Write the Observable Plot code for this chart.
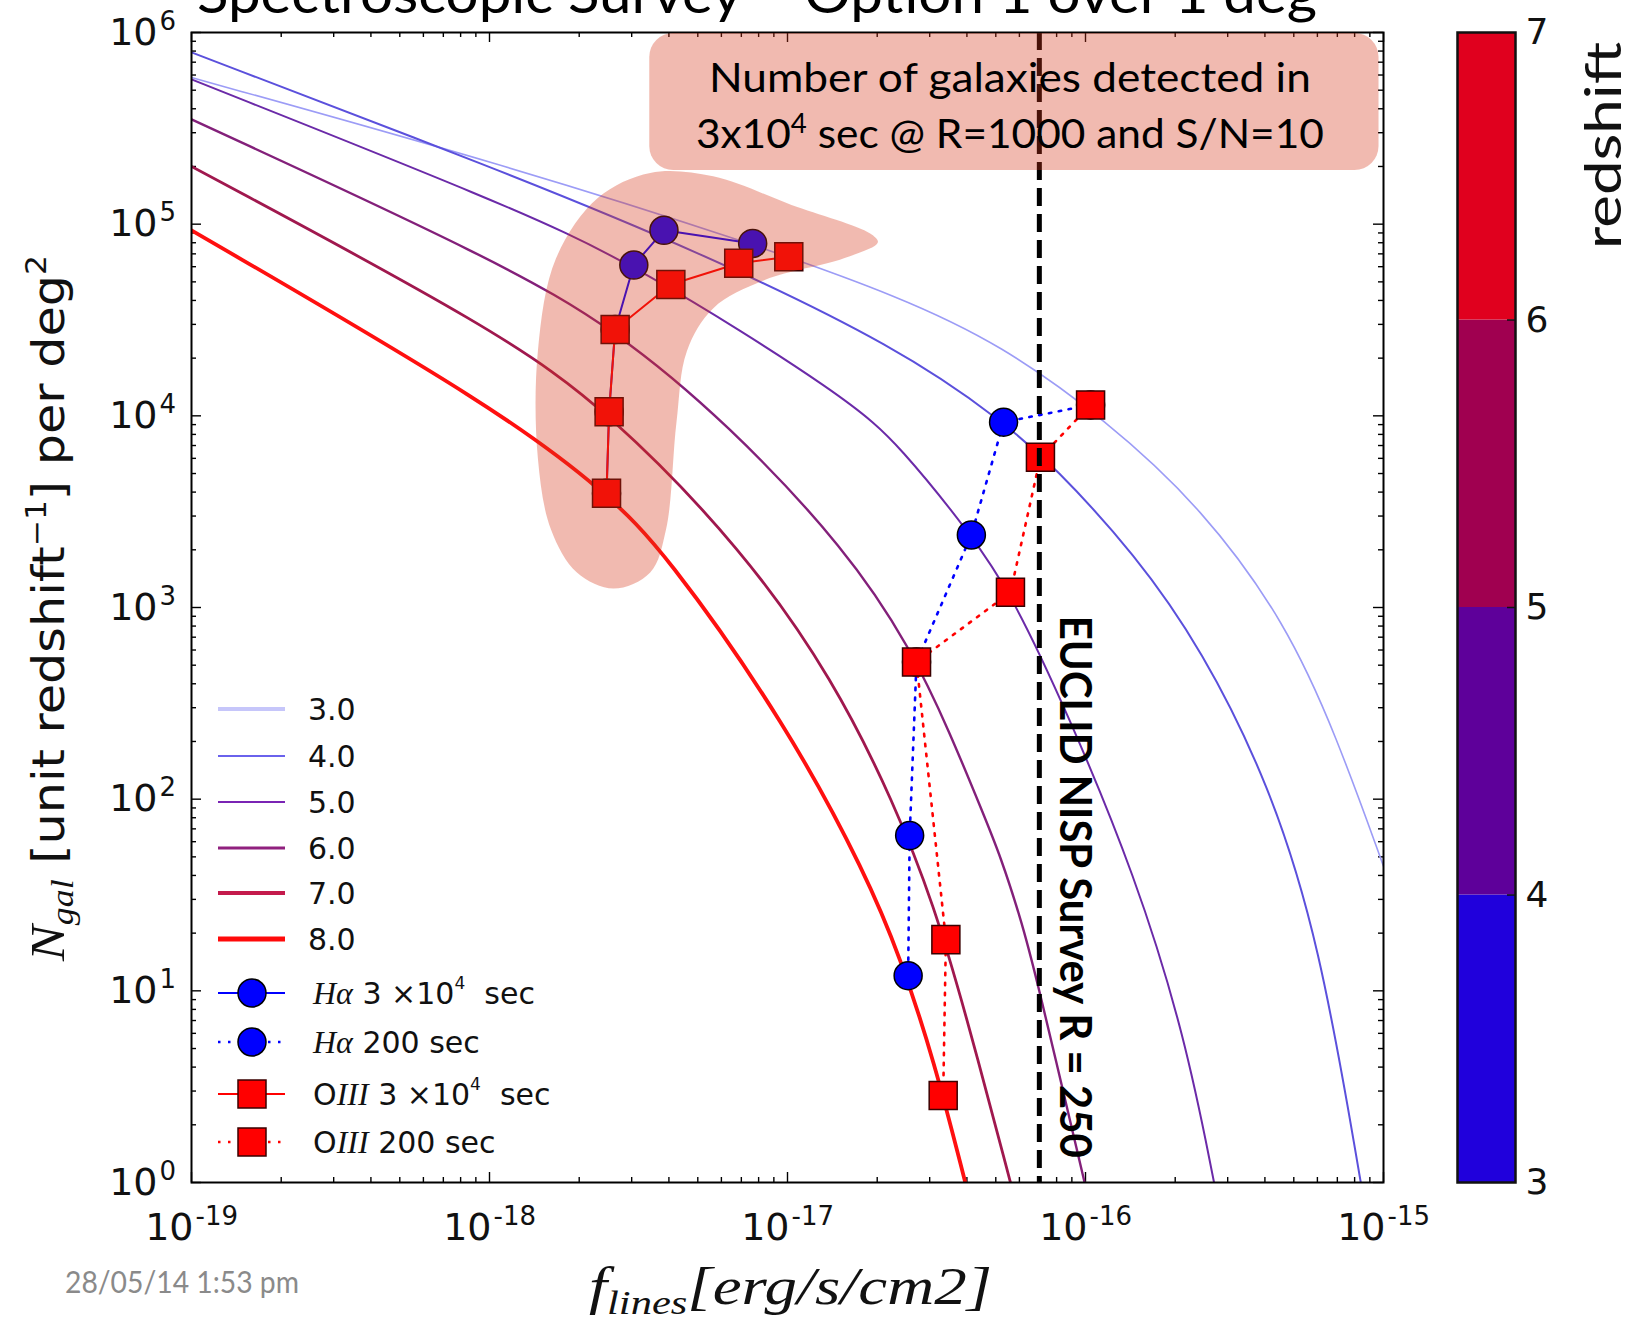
<!DOCTYPE html>
<html><head><meta charset="utf-8">
<script src="https://cdn.jsdelivr.net/npm/d3@7"></script>
<script src="https://cdn.jsdelivr.net/npm/@observablehq/plot@0.6"></script>
<style>
html,body{margin:0;padding:0;background:#fff;}
#wrap{position:relative;width:1629px;height:1322px;overflow:hidden;background:#fff;}
#wrap > svg{position:absolute;top:0;left:0;}
</style></head><body><div id="wrap"></div>
<script>
// ---------------- tick labels ----------------
const xMajorTicks = [1e-19, 1e-18, 1e-17, 1e-16, 1e-15];
const xTickExponents = ["-19", "-18", "-17", "-16", "-15"];
const yMajorTicks = [1, 1e1, 1e2, 1e3, 1e4, 1e5, 1e6];
const yTickExponents = ["0", "1", "2", "3", "4", "5", "6"];

// ---------------- model curves (flux, N_gal) ----------------
const curveLabels = ["3.0", "4.0", "5.0", "6.0", "7.0", "8.0"];
const fluxZ3 = [1e-19, 1.09e-18, 7.64e-18, 2.39e-17, 5.19e-17, 1.17e-16, 2.46e-16, 4.71e-16, 6.95e-16, 1e-15];
const nZ3    = [5.82e5, 2.07e5, 7.93e4, 4.17e4, 2.36e4, 9.53e3, 3.31e3, 832, 214, 44.7];
const fluxZ4 = [1e-19, 1.09e-18, 5.01e-18, 2.39e-17, 5.31e-17, 7.85e-17, 1.47e-16, 2.46e-16, 4.13e-16, 6.10e-16, 8.39e-16];
const nZ4    = [7.87e5, 1.91e5, 7.24e4, 2.25e4, 9.27e3, 5.46e3, 1.89e3, 604, 121, 18.0, 1];
const fluxZ5 = [1e-19, 1.09e-18, 3.05e-18, 1.63e-17, 2.39e-17, 4.14e-17, 5.60e-17, 8.71e-17, 1.47e-16, 2.16e-16, 2.70e-16];
const nZ5    = [5.69e5, 1.30e5, 6.27e4, 1.21e4, 6.92e3, 2.39e3, 1.20e3, 282, 39.8, 5.75, 1];
const fluxZ6 = [1e-19, 1.09e-18, 2.64e-18, 6.31e-18, 1.585e-17, 2.59e-17, 3.52e-17, 4.56e-17, 5.19e-17, 6.05e-17, 6.73e-17, 9.93e-17];
const nZ6    = [3.52e5, 6.34e4, 2.82e4, 9.12e3, 1.99e3, 614, 220, 82.4, 50.1, 24.0, 13.2, 1];
const fluxZ7 = [1e-19, 1.09e-18, 2.52e-18, 7.13e-18, 1.43e-17, 2.28e-17, 3.10e-17, 4.01e-17, 5.60e-17];
const nZ7    = [2.00e5, 2.74e4, 1.05e4, 1.99e3, 417, 95.5, 28.2, 7.14, 1];
const fluxZ8 = [1e-19, 1.09e-18, 2.47e-18, 3.85e-18, 9.98e-18, 1.85e-17, 2.39e-17, 3.10e-17, 3.95e-17];
const nZ8    = [9.29e4, 1.07e4, 3.94e3, 1.99e3, 242, 39.5, 14.9, 4.37, 1];

// ---------------- detections ----------------
const haLongFlux  = [2.47e-18, 2.52e-18, 2.64e-18, 3.05e-18, 3.85e-18, 7.64e-18];
const haLongN     = [3.94e3, 1.05e4, 2.82e4, 6.12e4, 9.29e4, 7.93e4];
const haShortFlux = [1.04e-16, 5.31e-17, 4.14e-17, 2.71e-17, 2.57e-17, 2.54e-17];
const haShortN    = [1.14e4, 9.27e3, 2.39e3, 519, 64.6, 12.0];
const o3LongFlux  = [2.47e-18, 2.52e-18, 2.64e-18, 4.06e-18, 6.86e-18, 1.01e-17];
const o3LongN     = [3.94e3, 1.05e4, 2.82e4, 4.84e4, 6.25e4, 6.76e4];
const o3ShortFlux = [1.04e-16, 7.06e-17, 5.60e-17, 2.71e-17, 3.40e-17, 3.33e-17];
const o3ShortN    = [1.14e4, 6.08e3, 1.20e3, 519, 18.5, 2.84];

// EUCLID NISP limit
const euclidFlux = 7.0e-17;
const euclidLabelTopN = 900;

// colorbar
const cbTicks = [3, 4, 5, 6, 7];
const cbBandLo = [3, 4, 5, 6];
const cbBandHi = [4, 5, 6, 7];

// annotation shapes (log10 flux, log10 N)
const blobOutline = [[-17.775,4.819],[-17.634,5.135],[-17.459,5.265],[-17.248,5.247],[-16.985,5.098],[-16.721,4.949],[-16.695,4.903],[-16.809,4.819],[-17.073,4.707],[-17.248,4.558],[-17.336,4.335],[-17.371,3.962],[-17.406,3.404],[-17.459,3.180],[-17.582,3.096],[-17.705,3.180],[-17.792,3.404],[-17.836,3.776],[-17.836,4.335]];
const boxFlux = [3.45e-18, 9.66e-16];
const boxN = [1.905e5, 1e6];

// ---------------- styles ----------------
const curveStroke = ["#9c9cf6", "#5b50dc", "#6b2aa8", "#83207a", "#a0184e", "#ff1010"];
const curveWidth = [1.6, 2, 2, 2.4, 2.8, 3.8];
const legendStroke = ["#c6c6fa", "#6a62ec", "#7a24b4", "#90207e", "#c41a4c", "#ff0a0a"];
const legendWidth = [4, 2, 2, 3, 4, 5];
const cbColors = ["#2000dc", "#5e009a", "#a00050", "#e0001e"];
const HILITE = "rgb(214,52,24)";

const W = 1629, H = 1322;
const mL = 191, mR = 246, mT = 32, mB = 140;
const fw = W - mL - mR, fh = H - mT - mB;

const pairs = (f, n) => f.map((v, i) => ({f: v, n: n[i]}));
const curveSeries = [[fluxZ3, nZ3], [fluxZ4, nZ4], [fluxZ5, nZ5], [fluxZ6, nZ6], [fluxZ7, nZ7], [fluxZ8, nZ8]];
const minorOf = majors => majors.slice(0, -1).flatMap(t => [2,3,4,5,6,7,8,9].map(k => t * k));
const xMinor = minorOf(xMajorTicks), yMinor = minorOf(yMajorTicks);
const tk = {stroke: "#000", strokeWidth: 1.4};

const marks = [
  Plot.ruleX(xMajorTicks, {...tk, insetTop: fh - 10}),
  Plot.ruleX(xMajorTicks, {...tk, insetBottom: fh - 10}),
  Plot.ruleX(xMinor, {...tk, insetTop: fh - 5}),
  Plot.ruleX(xMinor, {...tk, insetBottom: fh - 5}),
  Plot.ruleY(yMajorTicks, {...tk, insetRight: fw - 10}),
  Plot.ruleY(yMajorTicks, {...tk, insetLeft: fw - 10}),
  Plot.ruleY(yMinor, {...tk, insetRight: fw - 5}),
  Plot.ruleY(yMinor, {...tk, insetLeft: fw - 5}),
  ...curveSeries.map(([f, n], i) => Plot.line(pairs(f, n), {x: "f", y: "n", stroke: curveStroke[i], strokeWidth: curveWidth[i], curve: "basis", clip: true})),
  Plot.line(pairs(haLongFlux, haLongN), {x: "f", y: "n", stroke: "#0000ff", strokeWidth: 2}),
  Plot.dot(pairs(haLongFlux, haLongN), {x: "f", y: "n", r: 14, fill: "#0000ff", stroke: "#000", strokeWidth: 1.5}),
  Plot.line(pairs(haShortFlux, haShortN), {x: "f", y: "n", stroke: "#0000ff", strokeWidth: 2.6, strokeDasharray: "2.5,7.5"}),
  Plot.dot(pairs(haShortFlux, haShortN), {x: "f", y: "n", r: 14, fill: "#0000ff", stroke: "#000", strokeWidth: 1.5}),
  Plot.line(pairs(o3LongFlux, o3LongN), {x: "f", y: "n", stroke: "#ff0000", strokeWidth: 2}),
  Plot.dot(pairs(o3LongFlux, o3LongN), {x: "f", y: "n", symbol: "square", r: 15.8, fill: "#ff0000", stroke: "#3a0000", strokeWidth: 1.5}),
  Plot.line(pairs(o3ShortFlux, o3ShortN), {x: "f", y: "n", stroke: "#ff0000", strokeWidth: 2.6, strokeDasharray: "2.5,7.5"}),
  Plot.dot(pairs(o3ShortFlux, o3ShortN), {x: "f", y: "n", symbol: "square", r: 15.8, fill: "#ff0000", stroke: "#3a0000", strokeWidth: 1.5}),
  Plot.frame({stroke: "#000", strokeWidth: 2}),
  Plot.ruleX([euclidFlux], {stroke: "#000", strokeWidth: 5, strokeDasharray: "18,8", ariaLabel: "euclid-line"}),
  Plot.text(xMajorTicks, {x: d => d, text: () => "10", frameAnchor: "bottom", dx: 2, dy: 57, textAnchor: "end", lineAnchor: "bottom", fontSize: 38, fill: "#111"}),
  Plot.text(xMajorTicks, {x: d => d, text: (d, i) => xTickExponents[i], frameAnchor: "bottom", dx: 4, dy: 42, textAnchor: "start", lineAnchor: "bottom", fontSize: 26, fill: "#111"}),
  Plot.text(yMajorTicks, {y: d => d, text: () => "10", frameAnchor: "left", dx: -34, textAnchor: "end", fontSize: 38, fill: "#111"}),
  Plot.text(yMajorTicks, {y: d => d, text: (d, i) => yTickExponents[i], frameAnchor: "left", dx: -32, dy: -3, textAnchor: "start", lineAnchor: "bottom", fontSize: 26, fill: "#111"})
];

const plot = Plot.plot({
  width: W, height: H, marginLeft: mL, marginRight: mR, marginTop: mT, marginBottom: mB,
  x: {type: "log", domain: [1e-19, 1e-15], axis: null},
  y: {type: "log", domain: [1, 1e6], axis: null},
  style: {background: "transparent", fontFamily: "DejaVu Sans", overflow: "visible"},
  marks
});
const wrap = document.getElementById("wrap");
wrap.append(plot);

const svg = d3.select(plot);
const sx = plot.scale("x"), sy = plot.scale("y");
const px = v => sx.apply(v), py = v => sy.apply(v);
const ov = svg.append("g").attr("text-anchor", "start");

// highlight blob
const blobPts = blobOutline.map(([lf, ln]) => [px(10 ** lf), py(10 ** ln)]);
ov.append("path")
  .attr("d", d3.line().curve(d3.curveCatmullRomClosed.alpha(0.5))(blobPts))
  .attr("fill", HILITE).attr("fill-opacity", 0.34);

// text box
const bx1 = px(boxFlux[0]), bx2 = px(boxFlux[1]), byTop = py(boxN[1]), byBot = py(boxN[0]);
ov.append("rect").attr("x", bx1).attr("y", byTop + 1).attr("width", bx2 - bx1).attr("height", byBot - byTop - 1)
  .attr("rx", 24).attr("fill", HILITE).attr("fill-opacity", 0.34);
const bcx = (bx1 + bx2) / 2 - 4;
ov.append("text").attr("x", bcx).attr("y", byTop + 60).attr("text-anchor", "middle")
  .attr("font-family", "Lato").attr("font-size", 40).attr("fill", "#000")
  .attr("textLength", 602).attr("lengthAdjust", "spacingAndGlyphs")
  .text("Number of galaxies detected in");
const t2 = ov.append("text").attr("x", bcx).attr("y", byTop + 116).attr("text-anchor", "middle")
  .attr("font-family", "Lato").attr("font-size", 40).attr("fill", "#000")
  .attr("textLength", 628).attr("lengthAdjust", "spacingAndGlyphs");
t2.append("tspan").text("3x10");
t2.append("tspan").attr("font-size", 26).attr("dy", -15).text("4");
t2.append("tspan").attr("dy", 15).text(" sec @ R=1000 and S/N=10");

// dashed line on top
svg.select('[aria-label="euclid-line"]').raise();

const topG = svg.append("g").attr("text-anchor", "start");
// EUCLID label
topG.append("text")
  .attr("transform", `translate(${px(euclidFlux) + 21},${py(euclidLabelTopN)}) rotate(90)`)
  .attr("font-family", "Lato").attr("font-weight", 700).attr("font-size", 44).attr("fill", "#000")
  .attr("textLength", 542).attr("lengthAdjust", "spacingAndGlyphs")
  .text("EUCLID NISP Survey R = 250");

// legend
const lg = topG.append("g").attr("fill", "#111");
const rowY = [709, 756, 802, 848, 893, 939, 993, 1042, 1094, 1142];
curveLabels.forEach((lab, i) => {
  lg.append("line").attr("x1", 218).attr("x2", 285).attr("y1", rowY[i]).attr("y2", rowY[i])
    .attr("stroke", legendStroke[i]).attr("stroke-width", legendWidth[i]);
  lg.append("text").attr("x", 308).attr("y", rowY[i] + 11).attr("font-family", "DejaVu Sans").attr("font-size", 30).text(lab);
});
const markerRows = [
  {dash: null, shape: "circle", long: true},
  {dash: "2.5,7.5", shape: "circle", long: false},
  {dash: null, shape: "square", long: true},
  {dash: "2.5,7.5", shape: "square", long: false}
];
markerRows.forEach((m, k) => {
  const y = rowY[6 + k];
  const col = m.shape === "circle" ? "#0000ff" : "#ff0000";
  const ln = lg.append("line").attr("x1", 218).attr("x2", 285).attr("y1", y).attr("y2", y)
    .attr("stroke", col).attr("stroke-width", m.dash ? 2.6 : 2);
  if (m.dash) ln.attr("stroke-dasharray", m.dash);
  if (m.shape === "circle") lg.append("circle").attr("cx", 252).attr("cy", y).attr("r", 14).attr("fill", col).attr("stroke", "#000").attr("stroke-width", 1.5);
  else lg.append("rect").attr("x", 238).attr("y", y - 14).attr("width", 28).attr("height", 28).attr("fill", col).attr("stroke", "#3a0000").attr("stroke-width", 1.5);
  const t = lg.append("text").attr("x", 313).attr("y", y + 11).attr("font-family", "DejaVu Sans").attr("font-size", 30);
  if (m.shape === "circle") {
    t.append("tspan").attr("font-family", "Liberation Serif").attr("font-style", "italic").attr("font-size", 32).text("H\u03b1");
  } else {
    t.append("tspan").text("O");
    t.append("tspan").attr("font-family", "Liberation Serif").attr("font-style", "italic").attr("font-size", 32).text("III");
  }
  if (m.long) {
    t.append("tspan").text(" 3 \u00d710");
    t.append("tspan").attr("font-size", 17).attr("dy", -15).text("4");
    t.append("tspan").attr("dy", 15).text("\u00a0\u00a0sec");
  } else {
    t.append("tspan").text(" 200 sec");
  }
});

// title (clipped at top, as in the original)
topG.append("text").attr("x", 197).attr("y", 13).attr("font-family", "Lato").attr("font-size", 54).attr("fill", "#000")
  .attr("textLength", 1120).attr("lengthAdjust", "spacingAndGlyphs")
  .text("Spectroscopic Survey \u2013 Option 1 over 1 deg");

// y label
const yl = topG.append("text").attr("transform", "translate(64,961) rotate(-90)")
  .attr("font-family", "DejaVu Sans").attr("font-size", 44).attr("fill", "#111")
  .attr("textLength", 706).attr("lengthAdjust", "spacingAndGlyphs");
yl.append("tspan").attr("font-family", "Liberation Serif").attr("font-style", "italic").attr("font-size", 48).text("N");
yl.append("tspan").attr("font-family", "Liberation Serif").attr("font-style", "italic").attr("font-size", 32).attr("dy", 9).text("gal");
yl.append("tspan").attr("dy", -9).text("\u00a0[unit redshift");
yl.append("tspan").attr("font-size", 28).attr("dy", -18).text("\u22121");
yl.append("tspan").attr("dy", 18).text("] per deg");
yl.append("tspan").attr("font-size", 28).attr("dy", -18).text("2");

// x label
const xl = topG.append("text").attr("x", 589).attr("y", 1304)
  .attr("font-family", "Liberation Serif").attr("font-style", "italic").attr("font-size", 52).attr("fill", "#111")
  .attr("textLength", 403).attr("lengthAdjust", "spacingAndGlyphs");
xl.append("tspan").text("f");
xl.append("tspan").attr("font-size", 34).attr("dy", 10).text("lines");
xl.append("tspan").attr("dy", -10).text("[erg/s/cm2]");

// date
topG.append("text").attr("x", 65).attr("y", 1293).attr("font-family", "Lato").attr("font-size", 31).attr("fill", "#8a8a8a")
  .attr("textLength", 234).attr("lengthAdjust", "spacingAndGlyphs").text("28/05/14 1:53 pm");

// ---------------- colorbar ----------------
const cbLeft = 1440;
const cb = Plot.plot({
  width: 189, height: H, marginLeft: 17, marginRight: 114, marginTop: mT, marginBottom: mB,
  y: {domain: [3, 7], axis: null},
  color: {type: "identity"},
  style: {background: "transparent", fontFamily: "DejaVu Sans", overflow: "visible"},
  marks: [
    Plot.rect(cbBandLo.map((lo, i) => ({lo, hi: cbBandHi[i], c: cbColors[i]})), {y1: "lo", y2: "hi", fill: "c"}),
    Plot.ruleY([4, 5, 6], {insetLeft: 50, stroke: "#111", strokeWidth: 1.5}),
    Plot.frame({stroke: "#111", strokeWidth: 2.5}),
    Plot.text(cbTicks, {y: d => d, text: d => String(d), frameAnchor: "right", dx: 10, textAnchor: "start", fontSize: 36, fill: "#111"})
  ]
});
cb.style.left = cbLeft + "px";
wrap.append(cb);
d3.select(cb).append("text").attr("text-anchor", "start").attr("transform", "translate(181,249) rotate(-90)")
  .attr("font-family", "Lato").attr("font-size", 50).attr("fill", "#111")
  .attr("textLength", 207).attr("lengthAdjust", "spacingAndGlyphs").text("redshift");
</script>
</body></html>
